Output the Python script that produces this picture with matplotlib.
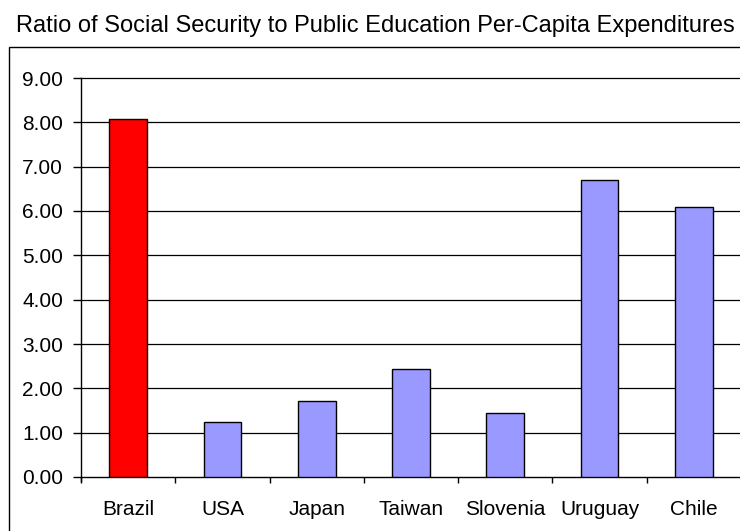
import numpy as np
import matplotlib.pyplot as plt
from matplotlib.patches import Rectangle

plt.rcParams['font.family'] = ['Liberation Sans', 'DejaVu Sans']

countries = ["Brazil", "USA", "Japan", "Taiwan", "Slovenia", "Uruguay", "Chile"]
ratios = [8.07, 1.24, 1.72, 2.43, 1.44, 6.70, 6.08]
bar_colors = ["#FF0000", "#9999FF", "#9999FF", "#9999FF", "#9999FF", "#9999FF", "#9999FF"]
y_ticks = np.arange(0, 10, 1)

fig = plt.figure(figsize=(7.4, 5.31), dpi=100)
W, H = 740, 531

# chart frame (runs off the right and bottom edges)
fig.patches.append(Rectangle((9 / W, -0.05), 1.0, (H - 47) / H + 0.05,
                             transform=fig.transFigure, fill=False,
                             edgecolor="black", linewidth=1.0))

fig.text(375 / W, 1 - 32 / H, "Ratio of Social Security to Public Education Per-Capita Expenditures",
         ha="center", va="baseline", fontsize=17)

ax = fig.add_axes([81 / W, 54 / H, 660 / W, 399 / H])
x = np.arange(len(countries))
ax.bar(x, ratios, width=0.4, color=bar_colors, edgecolor="black", linewidth=1.0, zorder=3)

ax.set_xlim(-0.5, len(countries) - 0.5)
ax.set_ylim(0, 9)
ax.set_yticks(y_ticks)
ax.set_yticklabels(["%.2f" % v for v in y_ticks])
ax.set_xticks(x)
ax.set_xticklabels(countries)
ax.set_xticks(np.arange(-0.5, len(countries)), minor=True)

ax.tick_params(axis="y", length=6, width=1, pad=7, labelsize=15)
ax.tick_params(axis="x", which="major", length=0, pad=16.5, labelsize=15)
ax.tick_params(axis="x", which="minor", length=4.5, width=1)

for v in y_ticks[1:]:
    ax.axhline(v, color="black", linewidth=0.9, zorder=1, clip_on=False)

for side in ["top", "right"]:
    ax.spines[side].set_visible(False)
for side in ["left", "bottom"]:
    ax.spines[side].set_linewidth(1.0)
ax.spines["left"].set_bounds(-0.1, 9)
ax.spines["left"].set_zorder(4)

fig.savefig("out.png", dpi=100)
